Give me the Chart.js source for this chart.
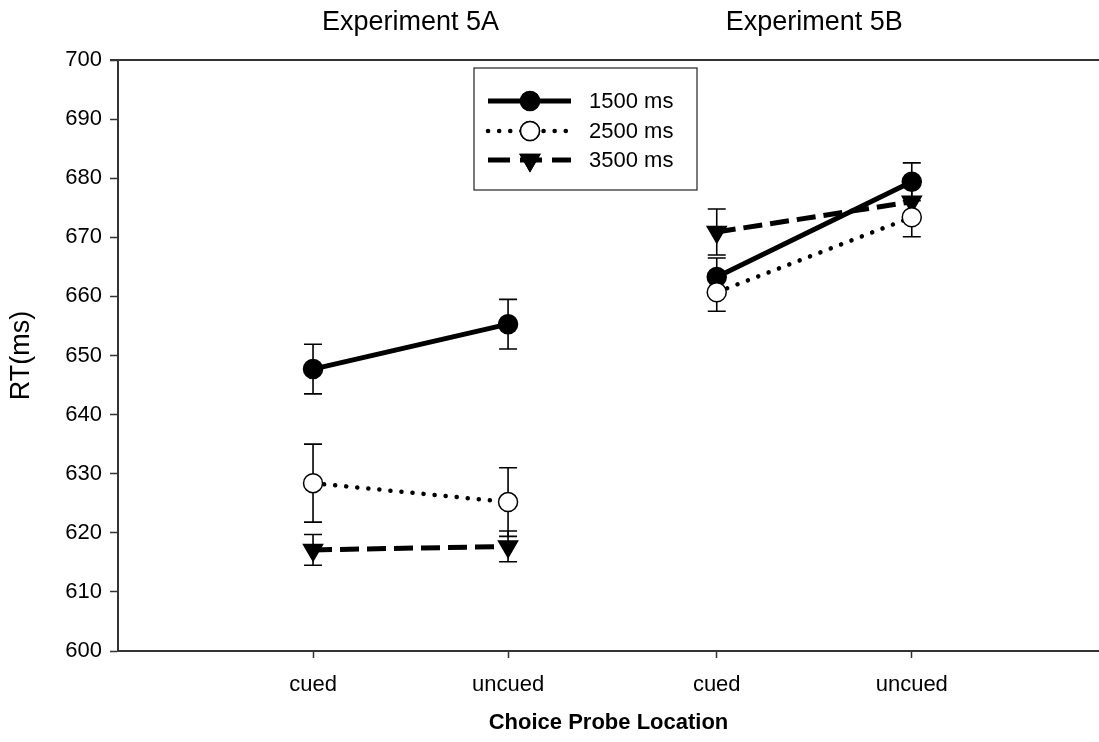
<!DOCTYPE html>
<html>
<head>
<meta charset="utf-8">
<script src="https://cdn.jsdelivr.net/npm/chart.js@4.4.1/dist/chart.umd.min.js"></script>
<style>
  html, body { margin: 0; padding: 0; background: #fff; }
  #wrap { width: 1099px; height: 742px; }
</style>
</head>
<body>
<div id="wrap"><canvas id="graph" width="1099" height="742"></canvas></div>
<script>
// x positions of the four conditions (5A cued, 5A uncued, 5B cued, 5B uncued)
const xPositions = [1, 2, 3.07, 4.07]
const xLabels = ["cued", "uncued", "cued", "uncued"]
const experiments = ["Experiment 5A", "Experiment 5B"]
const yTicks = [600, 610, 620, 630, 640, 650, 660, 670, 680, 690, 700]

const seriesNames = ["1500 ms", "2500 ms", "3500 ms"]
const rt1500 = [647.7, 655.3, 663.3, 679.4]
const rt2500 = [628.4, 625.2, 660.7, 673.4]
const rt3500 = [617.1, 617.7, 670.9, 676.0]
const se1500 = [4.2, 4.2, 3.2, 3.2]
const se2500 = [6.6, 5.8, 3.2, 3.3]
const se3500 = [2.6, 2.6, 3.9, 3.0]

const canv = /**@type {HTMLCanvasElement}*/(document.getElementById("graph"))
const ctx = canv.getContext("2d")
const FONT = "'Liberation Sans', Arial, sans-serif"
const INK = "#000"
const AXIS = "#333"

// insert a gap between the two experiments so the lines are not joined
function toPoints(vals, errs) {
    const pts = []
    vals.forEach((v, i) => {
        if (i == 2) pts.push({ x: 2.5, y: null })
        pts.push({ x: xPositions[i], y: v, err: errs[i] })
    })
    return pts
}

const errorBars = {
    id: "errorBars",
    beforeDatasetsDraw(chart) {
        const { ctx, scales: { x, y } } = chart
        ctx.save()
        ctx.strokeStyle = INK
        ctx.lineWidth = 1.6
        chart.data.datasets.forEach(ds => {
            ds.data.forEach(p => {
                if (p.y == null) return
                const px = x.getPixelForValue(p.x)
                const top = y.getPixelForValue(p.y + p.err)
                const bot = y.getPixelForValue(p.y - p.err)
                ctx.beginPath()
                ctx.moveTo(px, top); ctx.lineTo(px, bot)
                ctx.moveTo(px - 9, top); ctx.lineTo(px + 9, top)
                ctx.moveTo(px - 9, bot); ctx.lineTo(px + 9, bot)
                ctx.stroke()
            })
        })
        ctx.restore()
    }
}

const decorations = {
    id: "decorations",
    afterDraw(chart) {
        const { ctx, chartArea, scales: { x } } = chart
        ctx.save()
        // top frame line
        ctx.strokeStyle = AXIS
        ctx.lineWidth = 2
        ctx.beginPath()
        ctx.moveTo(chartArea.left - 8, chartArea.top)
        ctx.lineTo(chartArea.right, chartArea.top)
        ctx.stroke()

        // experiment headings, centred over each pair of conditions
        ctx.fillStyle = INK
        ctx.font = "27px " + FONT
        ctx.textAlign = "center"
        ctx.textBaseline = "middle"
        experiments.forEach((t, i) => {
            const mid = (xPositions[i * 2] + xPositions[i * 2 + 1]) / 2
            ctx.fillText(t, x.getPixelForValue(mid), 23)
        })

        // legend box
        const bx = 474, by = 68, bw = 223, bh = 122
        ctx.lineWidth = 1.2
        ctx.strokeStyle = "#222"
        ctx.strokeRect(bx, by, bw, bh)
        const rows = [101, 131, 160]
        chart.data.datasets.forEach((ds, i) => {
            const yy = rows[i]
            ctx.save()
            ctx.strokeStyle = INK
            ctx.lineWidth = ds.borderWidth
            ctx.lineCap = ds.borderCapStyle || "butt"
            ctx.setLineDash(ds.legendDash)
            ctx.beginPath()
            ctx.moveTo(488, yy); ctx.lineTo(571, yy)
            ctx.stroke()
            ctx.restore()
            Chart.helpers.drawPoint(ctx, {
                pointStyle: ds.pointStyle,
                rotation: ds.pointRotation || 0,
                radius: ds.pointRadius,
                borderWidth: ds.pointBorderWidth
            }, 530, yy)
            ctx.fillStyle = ds.pointBackgroundColor
            ctx.strokeStyle = INK
            ctx.lineWidth = ds.pointBorderWidth
            ctx.fill()
            ctx.stroke()
            ctx.fillStyle = INK
            ctx.font = "22px " + FONT
            ctx.textAlign = "left"
            ctx.fillText(seriesNames[i], 589, yy + 1)
        })
        ctx.restore()
    }
}

new Chart(ctx, {
    type: "line",
    data: {
        datasets: [
            {
                label: seriesNames[0],
                data: toPoints(rt1500, se1500),
                borderColor: INK,
                borderWidth: 5,
                legendDash: [],
                pointStyle: "circle",
                pointRadius: 9.5,
                pointBackgroundColor: INK,
                pointBorderColor: INK,
                pointBorderWidth: 1.5,
                order: 3
            },
            {
                label: seriesNames[1],
                data: toPoints(rt2500, se2500),
                borderColor: INK,
                borderWidth: 4.5,
                borderDash: [0.1, 11],
                borderCapStyle: "round",
                legendDash: [0.1, 11],
                pointStyle: "circle",
                pointRadius: 9.5,
                pointBackgroundColor: "#fff",
                pointBorderColor: INK,
                pointBorderWidth: 1.5,
                order: 1
            },
            {
                label: seriesNames[2],
                data: toPoints(rt3500, se3500),
                borderColor: INK,
                borderWidth: 5,
                borderDash: [19, 8],
                legendDash: [22, 10],
                pointStyle: "triangle",
                pointRotation: 180,
                pointRadius: 11,
                pointBackgroundColor: INK,
                pointBorderColor: INK,
                pointBorderWidth: 1.5,
                order: 2
            }
        ]
    },
    options: {
        responsive: false,
        animation: false,
        spanGaps: false,
        layout: {
            autoPadding: false,
            padding: { top: 60, right: 0, left: 0, bottom: 0 }
        },
        plugins: {
            legend: { display: false },
            tooltip: { enabled: false }
        },
        scales: {
            x: {
                type: "linear",
                min: 0,
                max: 5.03,
                afterBuildTicks: scale => {
                    scale.ticks = xPositions.map(v => ({ value: v }))
                },
                afterFit: scale => {
                    scale.height = 91
                    scale.paddingLeft = 0
                    scale.paddingRight = 0
                },
                ticks: {
                    callback: (v, i) => xLabels[i],
                    color: INK,
                    font: { family: FONT, size: 22 },
                    padding: 14,
                    maxRotation: 0,
                    autoSkip: false
                },
                grid: {
                    drawOnChartArea: false,
                    tickLength: 7,
                    tickWidth: 1.5,
                    color: AXIS
                },
                border: { color: AXIS, width: 2 },
                title: {
                    display: true,
                    text: "Choice Probe Location",
                    color: INK,
                    font: { family: FONT, size: 22, weight: "bold" },
                    padding: { top: 0, bottom: 6 }
                }
            },
            y: {
                min: 600,
                max: 700,
                afterBuildTicks: scale => {
                    scale.ticks = yTicks.map(v => ({ value: v }))
                },
                afterFit: scale => {
                    scale.width = 118
                    scale.paddingTop = 0
                    scale.paddingBottom = 0
                },
                ticks: {
                    color: INK,
                    font: { family: FONT, size: 22 },
                    padding: 8
                },
                grid: {
                    drawOnChartArea: false,
                    tickLength: 8,
                    tickWidth: 1.5,
                    color: AXIS
                },
                border: { color: AXIS, width: 2 },
                title: {
                    display: true,
                    text: "RT(ms)",
                    color: INK,
                    font: { family: FONT, size: 27 },
                    padding: { top: 5, bottom: 0 }
                }
            }
        }
    },
    plugins: [errorBars, decorations]
})
</script>
</body>
</html>
